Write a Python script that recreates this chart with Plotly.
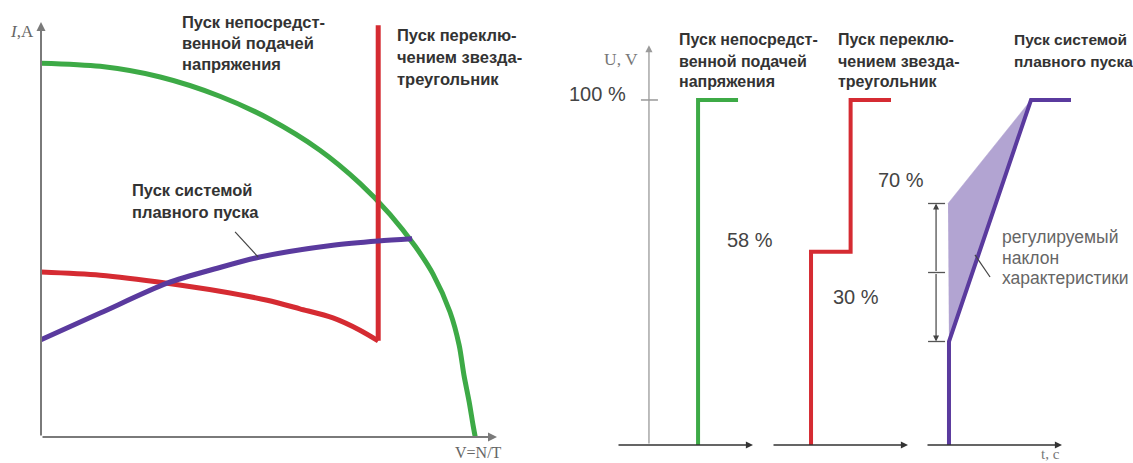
import plotly.graph_objects as go

W, H = 1133, 463

# ---------------- Left chart: current I vs speed (V = N/T) ----------------
speed_direct = [0, 13.6, 27.4, 41.1, 52.6, 64.1, 73.3, 80.2, 86.0, 90.1, 94.0, 96.1, 97.2, 98.4, 99.3, 99.8]
current_direct = [7.00, 6.94, 6.74, 6.38, 5.95, 5.37, 4.75, 4.17, 3.57, 3.05, 2.34, 1.72, 1.16, 0.66, 0.22, 0]

speed_stardelta = [0, 13.6, 29.0, 41.1, 52.0, 59.5, 67.1, 73.3, 77.5]
current_stardelta = [3.09, 3.03, 2.88, 2.73, 2.56, 2.40, 2.23, 2.00, 1.80]
speed_switch = [77.5, 77.5]
current_switch = [1.80, 7.71]

speed_soft = [0, 13.6, 29.0, 40.5, 50.3, 67.1, 77.5, 85.3]
current_soft = [1.82, 2.32, 2.88, 3.16, 3.37, 3.59, 3.67, 3.71]

soft_pointer_speed = [44.6, 49.9]
soft_pointer_current = [3.84, 3.37]

# ---------------- Right chart: voltage U vs time ----------------
t_direct = [5.96, 5.96, 8.90]
u_direct = [0, 100, 100]

t_stardelta = [2.87, 2.87, 5.78, 5.78, 8.75]
u_stardelta = [0, 56, 56, 100, 100]

t_soft = [1.69, 1.69, 7.72, 10.66]
u_soft = [0, 30, 100, 100]

t_band = [1.62, 7.72, 1.69]
u_band = [70, 100, 30]

bracket_t = 0.74
bracket_levels = [70, 50, 30]
bracket_cap_t = [0.15, 1.40]

slope_pointer_t = [3.60, 4.71]
slope_pointer_u = [55.1, 48.7]

tick_100_t = [1.76, 3.01]
tick_100_u = [100, 100]

GREEN = "#3daa46"
RED = "#d52b32"
PURPLE = "#5a3a9e"
BAND = "#b2a4d2"
TXT = "#333333"

fig = go.Figure()

# left chart traces
fig.add_trace(go.Scatter(x=speed_direct, y=current_direct, mode="lines",
                         line=dict(color=GREEN, width=5, shape="spline", smoothing=0.8),
                         xaxis="x", yaxis="y"))
fig.add_trace(go.Scatter(x=speed_stardelta, y=current_stardelta, mode="lines",
                         line=dict(color=RED, width=5, shape="spline", smoothing=0.8),
                         xaxis="x", yaxis="y"))
fig.add_trace(go.Scatter(x=speed_switch, y=current_switch, mode="lines",
                         line=dict(color=RED, width=5), xaxis="x", yaxis="y"))
fig.add_trace(go.Scatter(x=speed_soft, y=current_soft, mode="lines",
                         line=dict(color=PURPLE, width=5, shape="spline", smoothing=0.8),
                         xaxis="x", yaxis="y"))
fig.add_trace(go.Scatter(x=soft_pointer_speed, y=soft_pointer_current, mode="lines",
                         line=dict(color="#444444", width=1.2), xaxis="x", yaxis="y"))

# right chart traces
fig.add_trace(go.Scatter(x=tick_100_t, y=tick_100_u, mode="lines",
                         line=dict(color="#888888", width=1.3), xaxis="x2", yaxis="y2"))
fig.add_trace(go.Scatter(x=t_direct, y=u_direct, mode="lines",
                         line=dict(color=GREEN, width=4), xaxis="x2", yaxis="y2"))
fig.add_trace(go.Scatter(x=t_stardelta, y=u_stardelta, mode="lines",
                         line=dict(color=RED, width=4), xaxis="x3", yaxis="y3"))
fig.add_trace(go.Scatter(x=t_band, y=u_band, mode="lines", fill="toself",
                         fillcolor=BAND, line=dict(color=BAND, width=0.5),
                         xaxis="x4", yaxis="y4"))
fig.add_trace(go.Scatter(x=t_soft, y=u_soft, mode="lines",
                         line=dict(color=PURPLE, width=4), xaxis="x4", yaxis="y4"))
cap_x, cap_y = [], []
for lv in bracket_levels:
    cap_x += [bracket_cap_t[0], bracket_cap_t[1], None]
    cap_y += [lv, lv, None]
fig.add_trace(go.Scatter(x=cap_x, y=cap_y, mode="lines",
                         line=dict(color="#555555", width=1.3), xaxis="x4", yaxis="y4"))
fig.add_trace(go.Scatter(x=slope_pointer_t, y=slope_pointer_u, mode="lines",
                         line=dict(color="#444444", width=1.2), xaxis="x4", yaxis="y4"))

annotations = []


def arrow(x0, y0, x1, y1, xr, yr, color, width, size=1.0):
    annotations.append(dict(x=x1, y=y1, ax=x0, ay=y0, xref=xr, yref=yr,
                            axref=xr, ayref=yr, text="", showarrow=True,
                            arrowhead=2, arrowsize=size, arrowwidth=width,
                            arrowcolor=color, standoff=0, startstandoff=0))


# axes as arrows
arrow(0, 0, 0, 7.77, "x", "y", "#7a7a7a", 2, 0.9)
arrow(0, 0, 104.8, 0, "x", "y", "#7a7a7a", 2, 0.9)
arrow(2.35, 0, 2.35, 115.9, "x2", "y2", "#9a9a9a", 1.3, 1.1)
for xr, yr in (("x2", "y2"), ("x3", "y3"), ("x4", "y4")):
    arrow(0, 0, 10, 0, xr, yr, "#333333", 1.3, 1.1)
arrow(bracket_t, 50, bracket_t, 70, "x4", "y4", "#444444", 1.2, 1.0)
arrow(bracket_t, 50, bracket_t, 30, "x4", "y4", "#444444", 1.2, 1.0)


def text(s, px, py, size, color=TXT, family="Liberation Sans, Arial, sans-serif",
         xanchor="left"):
    annotations.append(dict(x=px / W, y=1 - py / H, xref="paper", yref="paper",
                            text=s, showarrow=False, xanchor=xanchor, yanchor="middle",
                            font=dict(size=size, color=color, family=family)))


SERIF = "Liberation Serif, Times New Roman, serif"

# left chart texts
text("<i>I</i>,A", 36, 32, 17, "#666666", SERIF, "right")
text("V=N/T", 478, 452, 16, "#666666", SERIF, "center")
for i, s in enumerate(["Пуск непосредст-", "венной подачей", "напряжения"]):
    text("<b>" + s + "</b>", 180, 22 + 21 * i, 16.5)
for i, s in enumerate(["Пуск переклю-", "чением звезда-", "треугольник"]):
    text("<b>" + s + "</b>", 395, 35 + 22 * i, 16.5)
for i, s in enumerate(["Пуск системой", "плавного пуска"]):
    text("<b>" + s + "</b>", 130, 190 + 22 * i, 16.5)

# right chart texts
text("U, V", 621, 59, 17.5, "#777777", SERIF, "center")
text("100 %", 628, 94, 20, "#444444", xanchor="right")
for i, s in enumerate(["Пуск непосредст-", "венной подачей", "напряжения"]):
    text("<b>" + s + "</b>", 677, 40 + 21 * i, 16)
for i, s in enumerate(["Пуск переклю-", "чением звезда-", "треугольник"]):
    text("<b>" + s + "</b>", 836, 40 + 21 * i, 16)
for i, s in enumerate(["Пуск системой", "плавного пуска"]):
    text("<b>" + s + "</b>", 1012, 40 + 21 * i, 15.5)
text("70 %", 876, 180, 20, "#444444")
text("58 %", 725, 240, 20, "#444444")
text("30 %", 831, 297, 20, "#444444")
for i, s in enumerate(["регулируемый", "наклон", "характеристики"]):
    text(s, 1000, 237 + 20.5 * i, 17.5, "#666666")
text("t, c", 1050, 454, 15, "#777777", SERIF, "center")

hidden = dict(visible=False, fixedrange=True)

fig.update_layout(
    width=W, height=H, autosize=False,
    margin=dict(l=0, r=0, t=0, b=0, pad=0),
    paper_bgcolor="white", plot_bgcolor="rgba(0,0,0,0)",
    showlegend=False,
    xaxis=dict(domain=[41 / W, 497 / W], range=[0, 104.8], anchor="y", **hidden),
    yaxis=dict(domain=[1 - 437 / H, 1 - 22 / H], range=[0, 7.77], anchor="x", **hidden),
    xaxis2=dict(domain=[617 / W, 767 / W], range=[0, 150 / 13.6], anchor="y2", **hidden),
    yaxis2=dict(domain=[1 - 445 / H, 1 - 45 / H], range=[0, 115.94], anchor="x2", **hidden),
    xaxis3=dict(domain=[772 / W, 922 / W], range=[0, 150 / 13.6], anchor="y3", **hidden),
    yaxis3=dict(domain=[1 - 445 / H, 1 - 45 / H], range=[0, 115.94], anchor="x3", **hidden),
    xaxis4=dict(domain=[926 / W, 1076 / W], range=[0, 150 / 13.6], anchor="y4", **hidden),
    yaxis4=dict(domain=[1 - 445 / H, 1 - 45 / H], range=[0, 115.94], anchor="x4", **hidden),
    annotations=annotations,
)

fig.write_html("out.html", config={"displayModeBar": False},
               post_script="document.body.style.margin='0px';")
